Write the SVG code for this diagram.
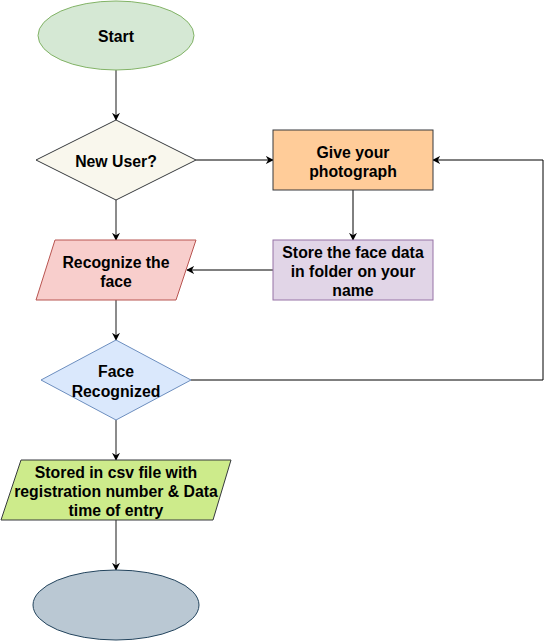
<svg xmlns="http://www.w3.org/2000/svg" width="553" height="641" viewBox="0 0 553 641">
<style>
text{font-family:"Liberation Sans",Arial,sans-serif;font-size:15.8px;font-weight:bold;fill:#000;text-anchor:middle;dominant-baseline:central}
.e{fill:none;stroke:#000;stroke-width:1}
.g{fill:none;stroke:#666;stroke-width:1.5}
</style>
<defs>
<marker id="a" viewBox="0 0 10 10" refX="9" refY="5" markerWidth="8" markerHeight="8" markerUnits="userSpaceOnUse" orient="auto">
<path d="M0,0 L10,5 L0,10 L3,5 Z" fill="#000"/>
</marker>
</defs>
<rect width="553" height="641" fill="#fff"/>
<g id="connectors">
<path class="g" d="M116,70 V120" marker-end="url(#a)"/>
<path class="e" d="M196,160 H273" marker-end="url(#a)"/>
<path class="e" d="M353,190 V240" marker-end="url(#a)"/>
<path class="g" d="M116,200 V240" marker-end="url(#a)"/>
<path class="e" d="M273,270 H187" marker-end="url(#a)"/>
<path class="g" d="M116,300 V340" marker-end="url(#a)"/>
<path class="e" d="M191,380 H543 V160 H433" marker-end="url(#a)"/>
<path class="g" d="M116,420 V460" marker-end="url(#a)"/>
<path class="g" d="M116,520 V570" marker-end="url(#a)"/>
</g>
<g id="start">
<ellipse cx="116" cy="35.5" rx="78" ry="34.5" fill="#d5e8d4" stroke="#82b366"/>
<text x="116" y="36">Start</text>
</g>
<g id="newuser">
<path d="M116,120 L196,160 L116,200 L36,160 Z" fill="#f9f7ed" stroke="#36393d"/>
<text x="116" y="161">New User?</text>
</g>
<g id="photo">
<rect x="273" y="130" width="160" height="60" fill="#ffcc99" stroke="#36393d"/>
<text x="353" y="152">Give your</text>
<text x="353" y="171">photograph</text>
</g>
<g id="store">
<rect x="273" y="240" width="160" height="60" fill="#e1d5e7" stroke="#9673a6"/>
<text x="353" y="252">Store the face data</text>
<text x="353" y="271">in folder on your</text>
<text x="353" y="290">name</text>
</g>
<g id="recognize">
<path d="M55,240 L196,240 L176,300 L36,300 Z" fill="#f8cecc" stroke="#b85450"/>
<text x="116" y="262">Recognize the</text>
<text x="116" y="281">face</text>
</g>
<g id="facerec">
<path d="M116,340 L191,380 L116,420 L41,380 Z" fill="#dae8fc" stroke="#6c8ebf"/>
<text x="116" y="371">Face</text>
<text x="116" y="391">Recognized</text>
</g>
<g id="stored">
<path d="M21,460 L231,460 L213,520 L1,520 Z" fill="#cdeb8b" stroke="#36393d"/>
<text x="116" y="472">Stored in csv file with</text>
<text x="116" y="491">registration number &amp; Data</text>
<text x="116" y="510">time of entry</text>
</g>
<g id="end">
<ellipse cx="116" cy="605" rx="83" ry="35" fill="#bac8d3" stroke="#23445d"/>
</g>
</svg>
